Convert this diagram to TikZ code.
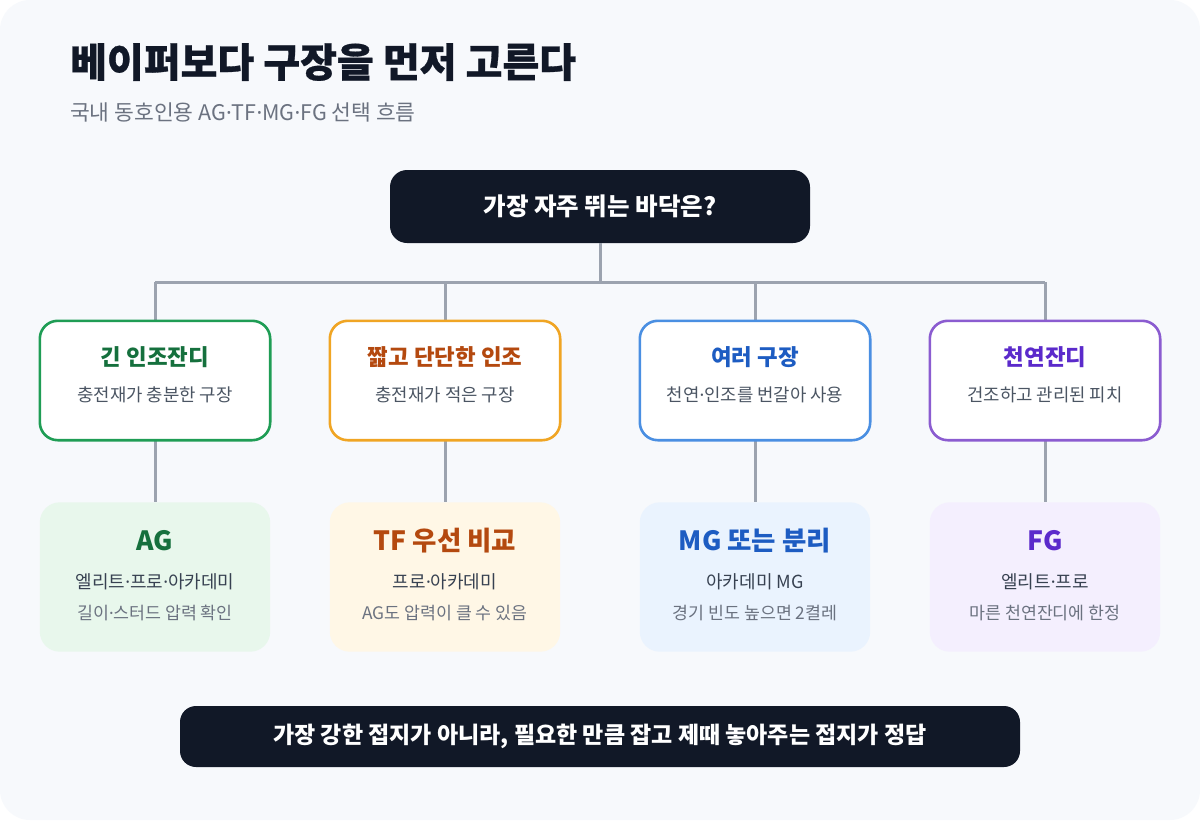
\documentclass[tikz,border=0pt]{standalone}
\usepackage{fontspec}
\setmainfont{Noto Sans CJK KR}
\newfontfamily\heavyf{Noto Sans CJK KR}[BoldFeatures={FakeBold=0.7}]
\newfontfamily\dotf{Noto Sans}
\newcommand{\mdot}{{\dotf\char"00B7}}
\usetikzlibrary{positioning}
\definecolor{cardbg}{HTML}{F7F9FC}
\definecolor{ink}{HTML}{111827}
\definecolor{subgray}{HTML}{6B7280}
\definecolor{midgray}{HTML}{4B5563}
\definecolor{linegray}{HTML}{9CA3AF}
\definecolor{textdark}{HTML}{374151}
\definecolor{gBorder}{HTML}{1F9D55}
\definecolor{gTitle}{HTML}{15703D}
\definecolor{gFill}{HTML}{E8F7EC}
\definecolor{oBorder}{HTML}{F0A524}
\definecolor{oTitle}{HTML}{B4490F}
\definecolor{oFill}{HTML}{FFF7E6}
\definecolor{bBorder}{HTML}{4A8FE2}
\definecolor{bTitle}{HTML}{1D5CC2}
\definecolor{bFill}{HTML}{EAF3FE}
\definecolor{pBorder}{HTML}{8B5CD0}
\definecolor{pTitle}{HTML}{5B2ACB}
\definecolor{pFill}{HTML}{F4EFFE}
\tikzset{
  darkbox/.style={fill=ink, rounded corners=17pt, draw=none},
  midbox/.style={fill=white, line width=2.6pt, rounded corners=18pt},
  lowbox/.style={rounded corners=20pt, draw=none},
  conn/.style={draw=linegray, line width=3pt},
  midtitle/.style={font=\fontsize{22.4}{26}\selectfont\bfseries, anchor=center},
  midsub/.style={font=\fontsize{17.8}{21}\selectfont, text=midgray, anchor=center},
  lowtitle/.style={font=\fontsize{26.5}{30}\selectfont\bfseries, anchor=center},
  lowmain/.style={font=\fontsize{18}{21}\selectfont, text=textdark, anchor=center},
  lowsub/.style={font=\fontsize{17.3}{20}\selectfont, text=subgray, anchor=center}
}
\begin{document}
\begin{tikzpicture}[x=1pt,y=-1pt]
\useasboundingbox (0,0) rectangle (1200,820);
\fill[white] (0,0) rectangle (1200,820);
\fill[cardbg, rounded corners=30pt] (0,0) rectangle (1200,820);

% title
\node[anchor=base west, inner sep=0, text=ink, font=\fontsize{40}{44}\selectfont\heavyf\bfseries] (title) at (70,77) {베이퍼보다 구장을 먼저 고른다};
\node[anchor=base west, inner sep=0, text=subgray, font=\fontsize{21.5}{24}\selectfont] (subtitle) at (70,120) {국내 동호인용 AG\mdot TF\mdot MG\mdot FG 선택 흐름};

% top question
\draw[darkbox] (390,170) rectangle (810,243);
\node[inner sep=0, minimum width=420pt, minimum height=73pt] (q) at (600,206.5) {};
\node[text=white, font=\fontsize{24.5}{28}\selectfont\bfseries] (qtext) at (600,206.5) {가장 자주 뛰는 바닥은?};

% mid boxes (placeholders for anchors)
\node[inner sep=0, minimum width=230pt, minimum height=119pt] (m1) at (155,380.5) {};
\node[inner sep=0, minimum width=230pt, minimum height=119pt] (m2) at (445,380.5) {};
\node[inner sep=0, minimum width=230pt, minimum height=119pt] (m3) at (755,380.5) {};
\node[inner sep=0, minimum width=230pt, minimum height=119pt] (m4) at (1045,380.5) {};
% low boxes
\node[inner sep=0, minimum width=230pt, minimum height=149pt] (l1) at (155,577) {};
\node[inner sep=0, minimum width=230pt, minimum height=149pt] (l2) at (445,577) {};
\node[inner sep=0, minimum width=230pt, minimum height=149pt] (l3) at (755,577) {};
\node[inner sep=0, minimum width=230pt, minimum height=149pt] (l4) at (1045,577) {};

% connectors
\coordinate (bus) at (600,282);
\draw[conn] (q.south) -- (bus);
\draw[conn] (155,282) -- (1045,282);
\foreach \i in {1,2,3,4} {
  \draw[conn] (m\i.north |- bus) -- (m\i.north);
  \draw[conn] (m\i.south) -- (l\i.north);
}

% mid box drawings
\draw[midbox, draw=gBorder] (m1.south west) rectangle (m1.north east);
\draw[midbox, draw=oBorder] (m2.south west) rectangle (m2.north east);
\draw[midbox, draw=bBorder] (m3.south west) rectangle (m3.north east);
\draw[midbox, draw=pBorder] (m4.south west) rectangle (m4.north east);

\node[midtitle, text=gTitle] (m1t) at (155,357) {긴 인조잔디};
\node[midsub] (m1s) at (155,395) {충전재가 충분한 구장};
\node[midtitle, text=oTitle] (m2t) at (445,357) {짧고 단단한 인조};
\node[midsub] (m2s) at (445,395) {충전재가 적은 구장};
\node[midtitle, text=bTitle] (m3t) at (755,357) {여러 구장};
\node[midsub] (m3s) at (755,395) {천연\mdot 인조를 번갈아 사용};
\node[midtitle, text=pTitle] (m4t) at (1045,357) {천연잔디};
\node[midsub] (m4s) at (1045,395) {건조하고 관리된 피치};

% low boxes
\fill[lowbox, fill=gFill] (l1.south west) rectangle (l1.north east);
\fill[lowbox, fill=oFill] (l2.south west) rectangle (l2.north east);
\fill[lowbox, fill=bFill] (l3.south west) rectangle (l3.north east);
\fill[lowbox, fill=pFill] (l4.south west) rectangle (l4.north east);

\node[lowtitle, text=gTitle] (l1t) at (155,541) {AG};
\node[lowmain] (l1m) at (155,582) {엘리트\mdot 프로\mdot 아카데미};
\node[lowsub] (l1s) at (155,613) {길이\mdot 스터드 압력 확인};
\node[lowtitle, text=oTitle] (l2t) at (445,541) {TF 우선 비교};
\node[lowmain] (l2m) at (445,582) {프로\mdot 아카데미};
\node[lowsub] (l2s) at (445,613) {AG도 압력이 클 수 있음};
\node[lowtitle, text=bTitle] (l3t) at (755,541) {MG 또는 분리};
\node[lowmain] (l3m) at (755,582) {아카데미 MG};
\node[lowsub] (l3s) at (755,613) {경기 빈도 높으면 2켤레};
\node[lowtitle, text=pTitle] (l4t) at (1045,541) {FG};
\node[lowmain] (l4m) at (1045,582) {엘리트\mdot 프로};
\node[lowsub] (l4s) at (1045,613) {마른 천연잔디에 한정};

% bottom bar
\draw[darkbox, rounded corners=16pt] (180,706) rectangle (1020,767);
\node[text=white, font=\fontsize{23}{26}\selectfont\bfseries] (bar) at (600,736.5) {가장 강한 접지가 아니라, 필요한 만큼 잡고 제때 놓아주는 접지가 정답};
\end{tikzpicture}
\end{document}
